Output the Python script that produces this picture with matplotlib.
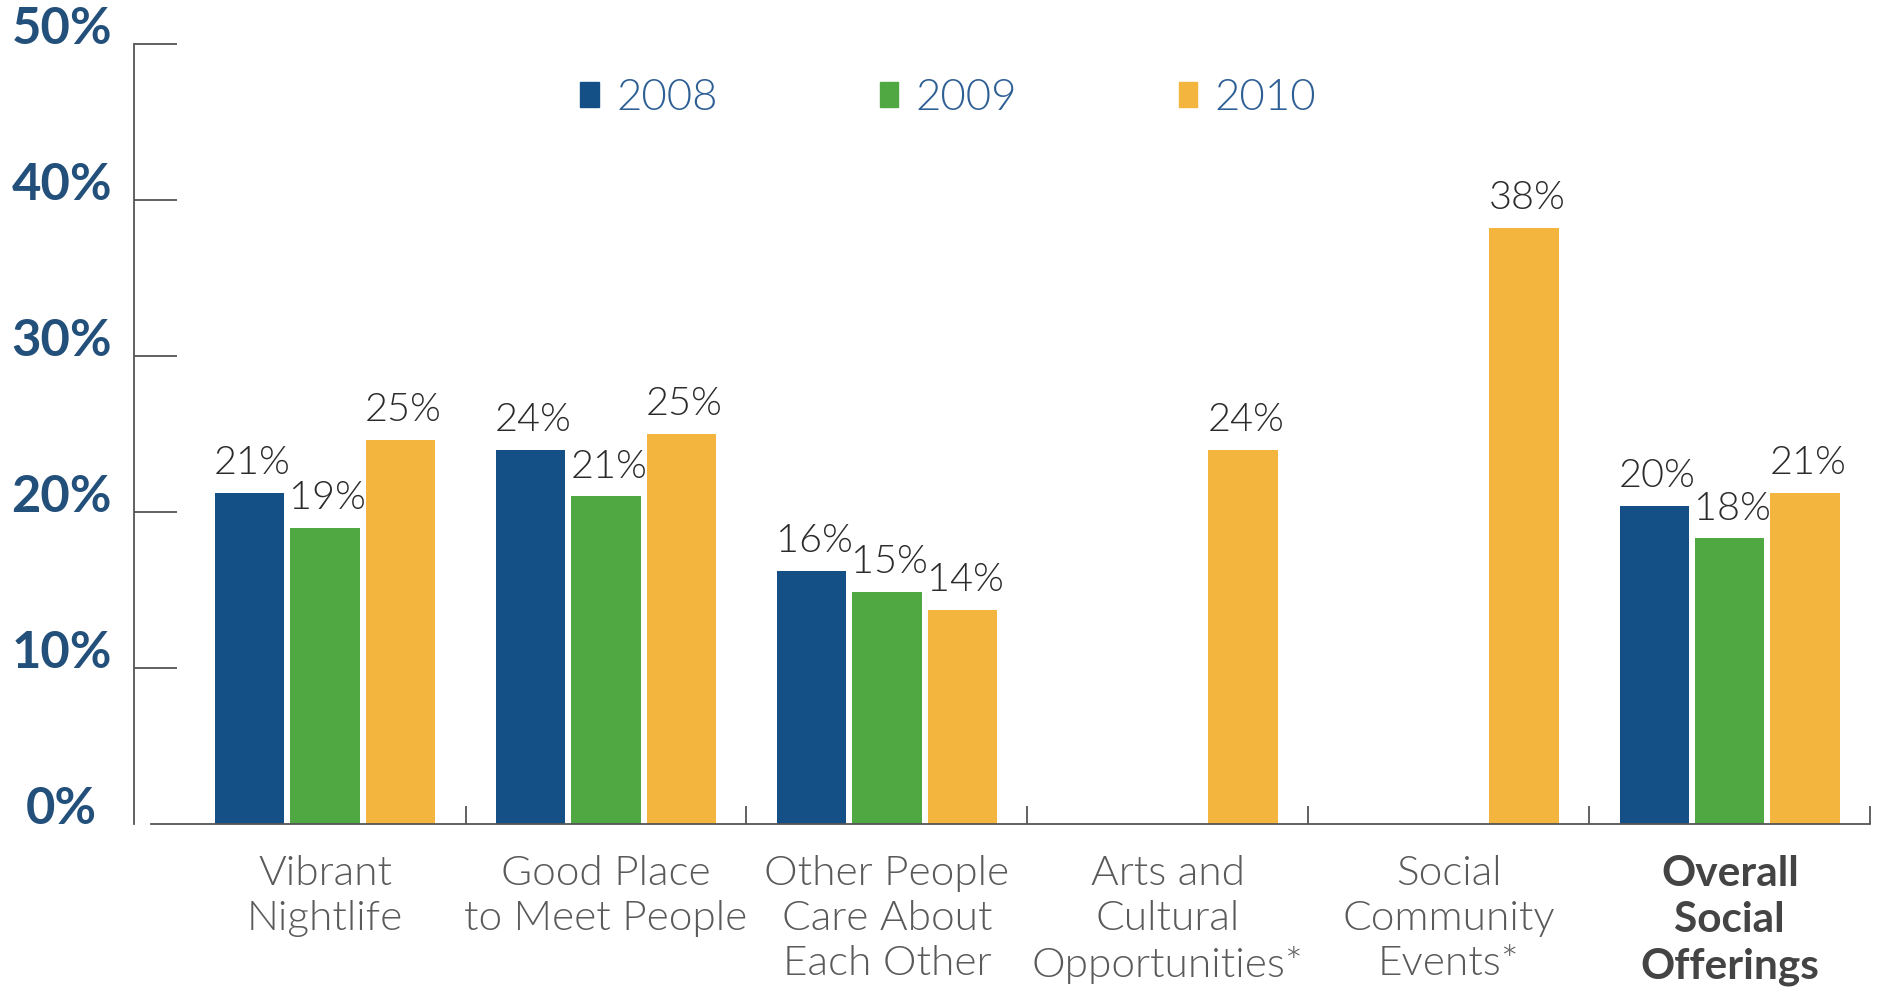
import numpy as np
import matplotlib.pyplot as plt
from matplotlib.patches import Patch

categories = ['Vibrant\nNightlife', 'Good Place\nto Meet People', 'Other People\nCare About\nEach Other',
              'Arts and\nCultural\nOpportunities*', 'Social\nCommunity\nEvents*', 'Overall\nSocial\nOfferings']
years = ['2008', '2009', '2010']
v2008 = [21.2, 24.0, 16.2, np.nan, np.nan, 20.4]
v2009 = [19.0, 21.0, 14.9, np.nan, np.nan, 18.3]
v2010 = [24.6, 25.0, 13.7, 24.0, 38.2, 21.2]
colors = ['#144f86', '#50a843', '#f4b53f']

plt.rcParams['font.family'] = ['Lato', 'DejaVu Sans']

fig = plt.figure(figsize=(18.77, 9.9), dpi=100)
ax = fig.add_axes([0.0714, 0.1677, 0.925, 0.788])

x = np.arange(len(categories))
step = 0.268
width = 0.247
for i, (vals, c) in enumerate(zip([v2008, v2009, v2010], colors)):
    pos = x + (i - 1) * step
    ax.bar(pos, vals, width=width, color=c, zorder=2)
    for p, v in zip(pos, vals):
        if np.isnan(v):
            continue
        ax.annotate(f'{v:.0f}%', (p, v), xytext=(2, 8.5), textcoords='offset points',
                    ha='center', va='bottom', fontsize=28.5, fontweight=300, color='#2b2b2b')

ax.set_ylim(0, 50)
ax.set_xlim(-0.68, 5.5)

# y axis
ax.set_yticks(range(0, 51, 10))
ax.set_yticklabels([f'{t}%' for t in range(0, 51, 10)])
ax.tick_params(axis='y', direction='in', length=31, width=1.3, color='#555555',
               pad=52, labelsize=36.5, labelcolor='#23507a')
plt.setp(ax.get_yticklabels(), ha='center', va='baseline', fontweight='bold')
ax.yaxis.get_major_ticks()[0].tick1line.set_visible(False)

# x axis: labels at group centres, tick marks between groups
ax.set_xticks(x)
ax.set_xticklabels(categories, linespacing=1.28, color='#5a5a5a', fontweight=300)
ax.tick_params(axis='x', length=0, pad=22, labelsize=30.5)
ax.get_xticklabels()[-1].set_fontweight('bold')
ax.get_xticklabels()[-1].set_color('#444444')
ax.set_xticks(x + 0.5, minor=True)
ax.tick_params(axis='x', which='minor', direction='in', length=13, width=1.3, color='#555555')

for s in ['top', 'right']:
    ax.spines[s].set_visible(False)
ax.spines['left'].set_color('#555555')
ax.spines['left'].set_linewidth(1.3)
ax.spines['bottom'].set_color('#555555')
ax.spines['bottom'].set_linewidth(1.3)
ax.spines['bottom'].set_bounds(-0.62, 5.5)

handles = [Patch(color=c, label=y) for c, y in zip(colors, years)]
leg = ax.legend(handles=handles, loc='center', bbox_to_anchor=(0.469, 0.93), ncol=3,
                frameon=False, handlelength=0.42, handleheight=0.5,
                handletextpad=0.4, columnspacing=3.7,
                prop={'size': 31.5, 'weight': 300})
for t in leg.get_texts():
    t.set_color('#2d5f94')

fig.savefig('out.png', dpi=100)
